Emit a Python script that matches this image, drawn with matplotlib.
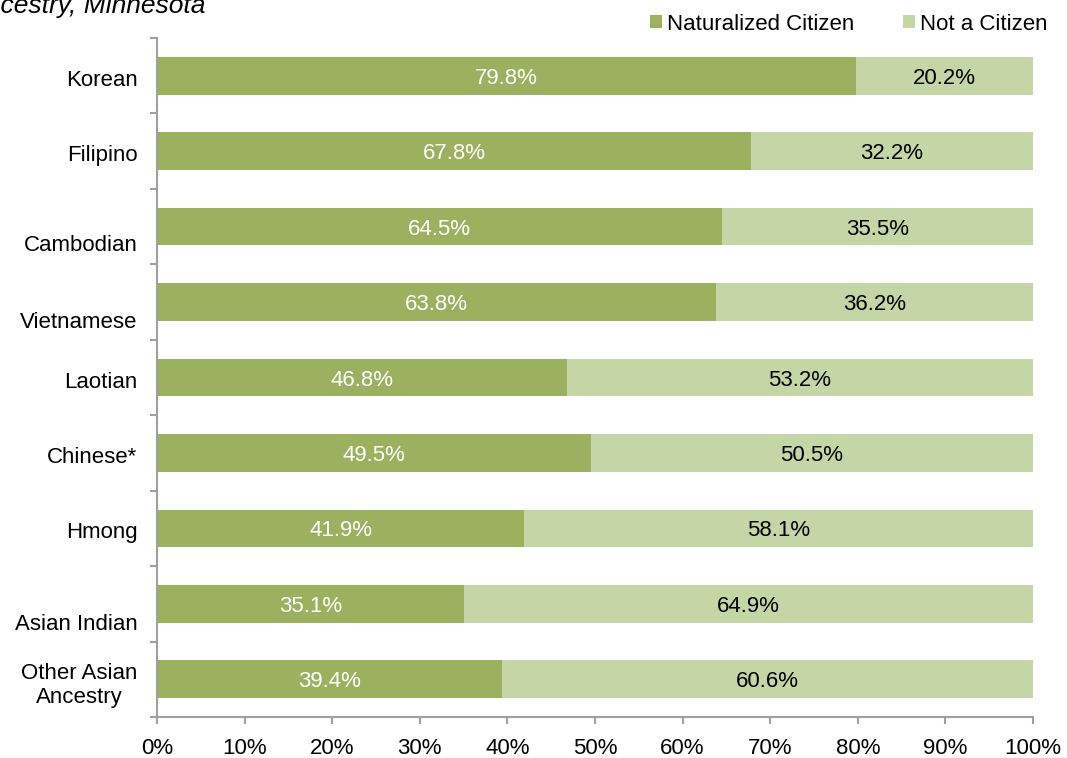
import matplotlib.pyplot as plt
import matplotlib.transforms as mtransforms

plt.rcParams['font.family'] = ['Liberation Sans', 'DejaVu Sans']

groups = ['Korean', 'Filipino', 'Cambodian', 'Vietnamese', 'Laotian',
          'Chinese*', 'Hmong', 'Asian Indian', 'Other Asian\nAncestry']
naturalized = [79.8, 67.8, 64.5, 63.8, 46.8, 49.5, 41.9, 35.1, 39.4]
not_citizen = [20.2, 32.2, 35.5, 36.2, 53.2, 50.5, 58.1, 64.9, 60.6]
# labels that sit a little low in the original
label_shift = [2, 2, 16, 18, 2, 2, 2, 18, 2]

dark = '#9BB15F'
light = '#C4D6A6'
fs = 16

fig = plt.figure(figsize=(10.67, 7.58), dpi=100)
ax = fig.add_axes([157 / 1067, 1 - 717 / 758, 876 / 1067, 679 / 758])

y = list(range(len(groups)))
ax.barh(y, naturalized, height=0.5, color=dark, label='Naturalized Citizen')
ax.barh(y, not_citizen, left=naturalized, height=0.5, color=light,
        label='Not a Citizen')

for i in y:
    ax.text(naturalized[i] / 2, i, f'{naturalized[i]:.1f}%', ha='center',
            va='center_baseline', color='white', fontsize=fs)
    ax.text(naturalized[i] + not_citizen[i] / 2, i, f'{not_citizen[i]:.1f}%',
            ha='center', va='center_baseline', color='black', fontsize=fs)

ax.set_xlim(0, 100)
ax.set_ylim(len(groups) - 0.5, -0.5)
ax.set_xticks(range(0, 101, 10))
ax.set_xticklabels([f'{v}%' for v in range(0, 101, 10)], fontsize=fs)

ax.set_yticks(y)
ax.set_yticklabels(groups, fontsize=fs, ha='right', multialignment='center')
ax.tick_params(axis='y', length=0, pad=14)
ax.set_yticks([i - 0.5 for i in range(len(groups) + 1)], minor=True)
ax.tick_params(axis='y', which='minor', length=5, color='#A0A0A0', width=1.5)
ax.tick_params(axis='x', length=5, color='#A0A0A0', width=1.5, pad=10)

for lbl, s in zip(ax.get_yticklabels(), label_shift):
    lbl.set_transform(lbl.get_transform() +
                      mtransforms.ScaledTranslation(0, -s / 100, fig.dpi_scale_trans))

for side in ['top', 'right']:
    ax.spines[side].set_visible(False)
for side in ['left', 'bottom']:
    ax.spines[side].set_color('#A0A0A0')
    ax.spines[side].set_linewidth(1.5)

ax.legend(loc='center right', bbox_to_anchor=(1.016, (717 - 24) / 679), ncol=2,
          frameon=False, fontsize=fs, handlelength=0.55, handleheight=0.55,
          handletextpad=0.2, columnspacing=2.2, borderaxespad=0, borderpad=0)

fig.text(205 / 1067, 1 - 6 / 758, 'Citizenship Status by Asian Ancestry, Minnesota',
         ha='right', va='center', style='italic', fontsize=19)

fig.savefig('out.png', dpi=100)
